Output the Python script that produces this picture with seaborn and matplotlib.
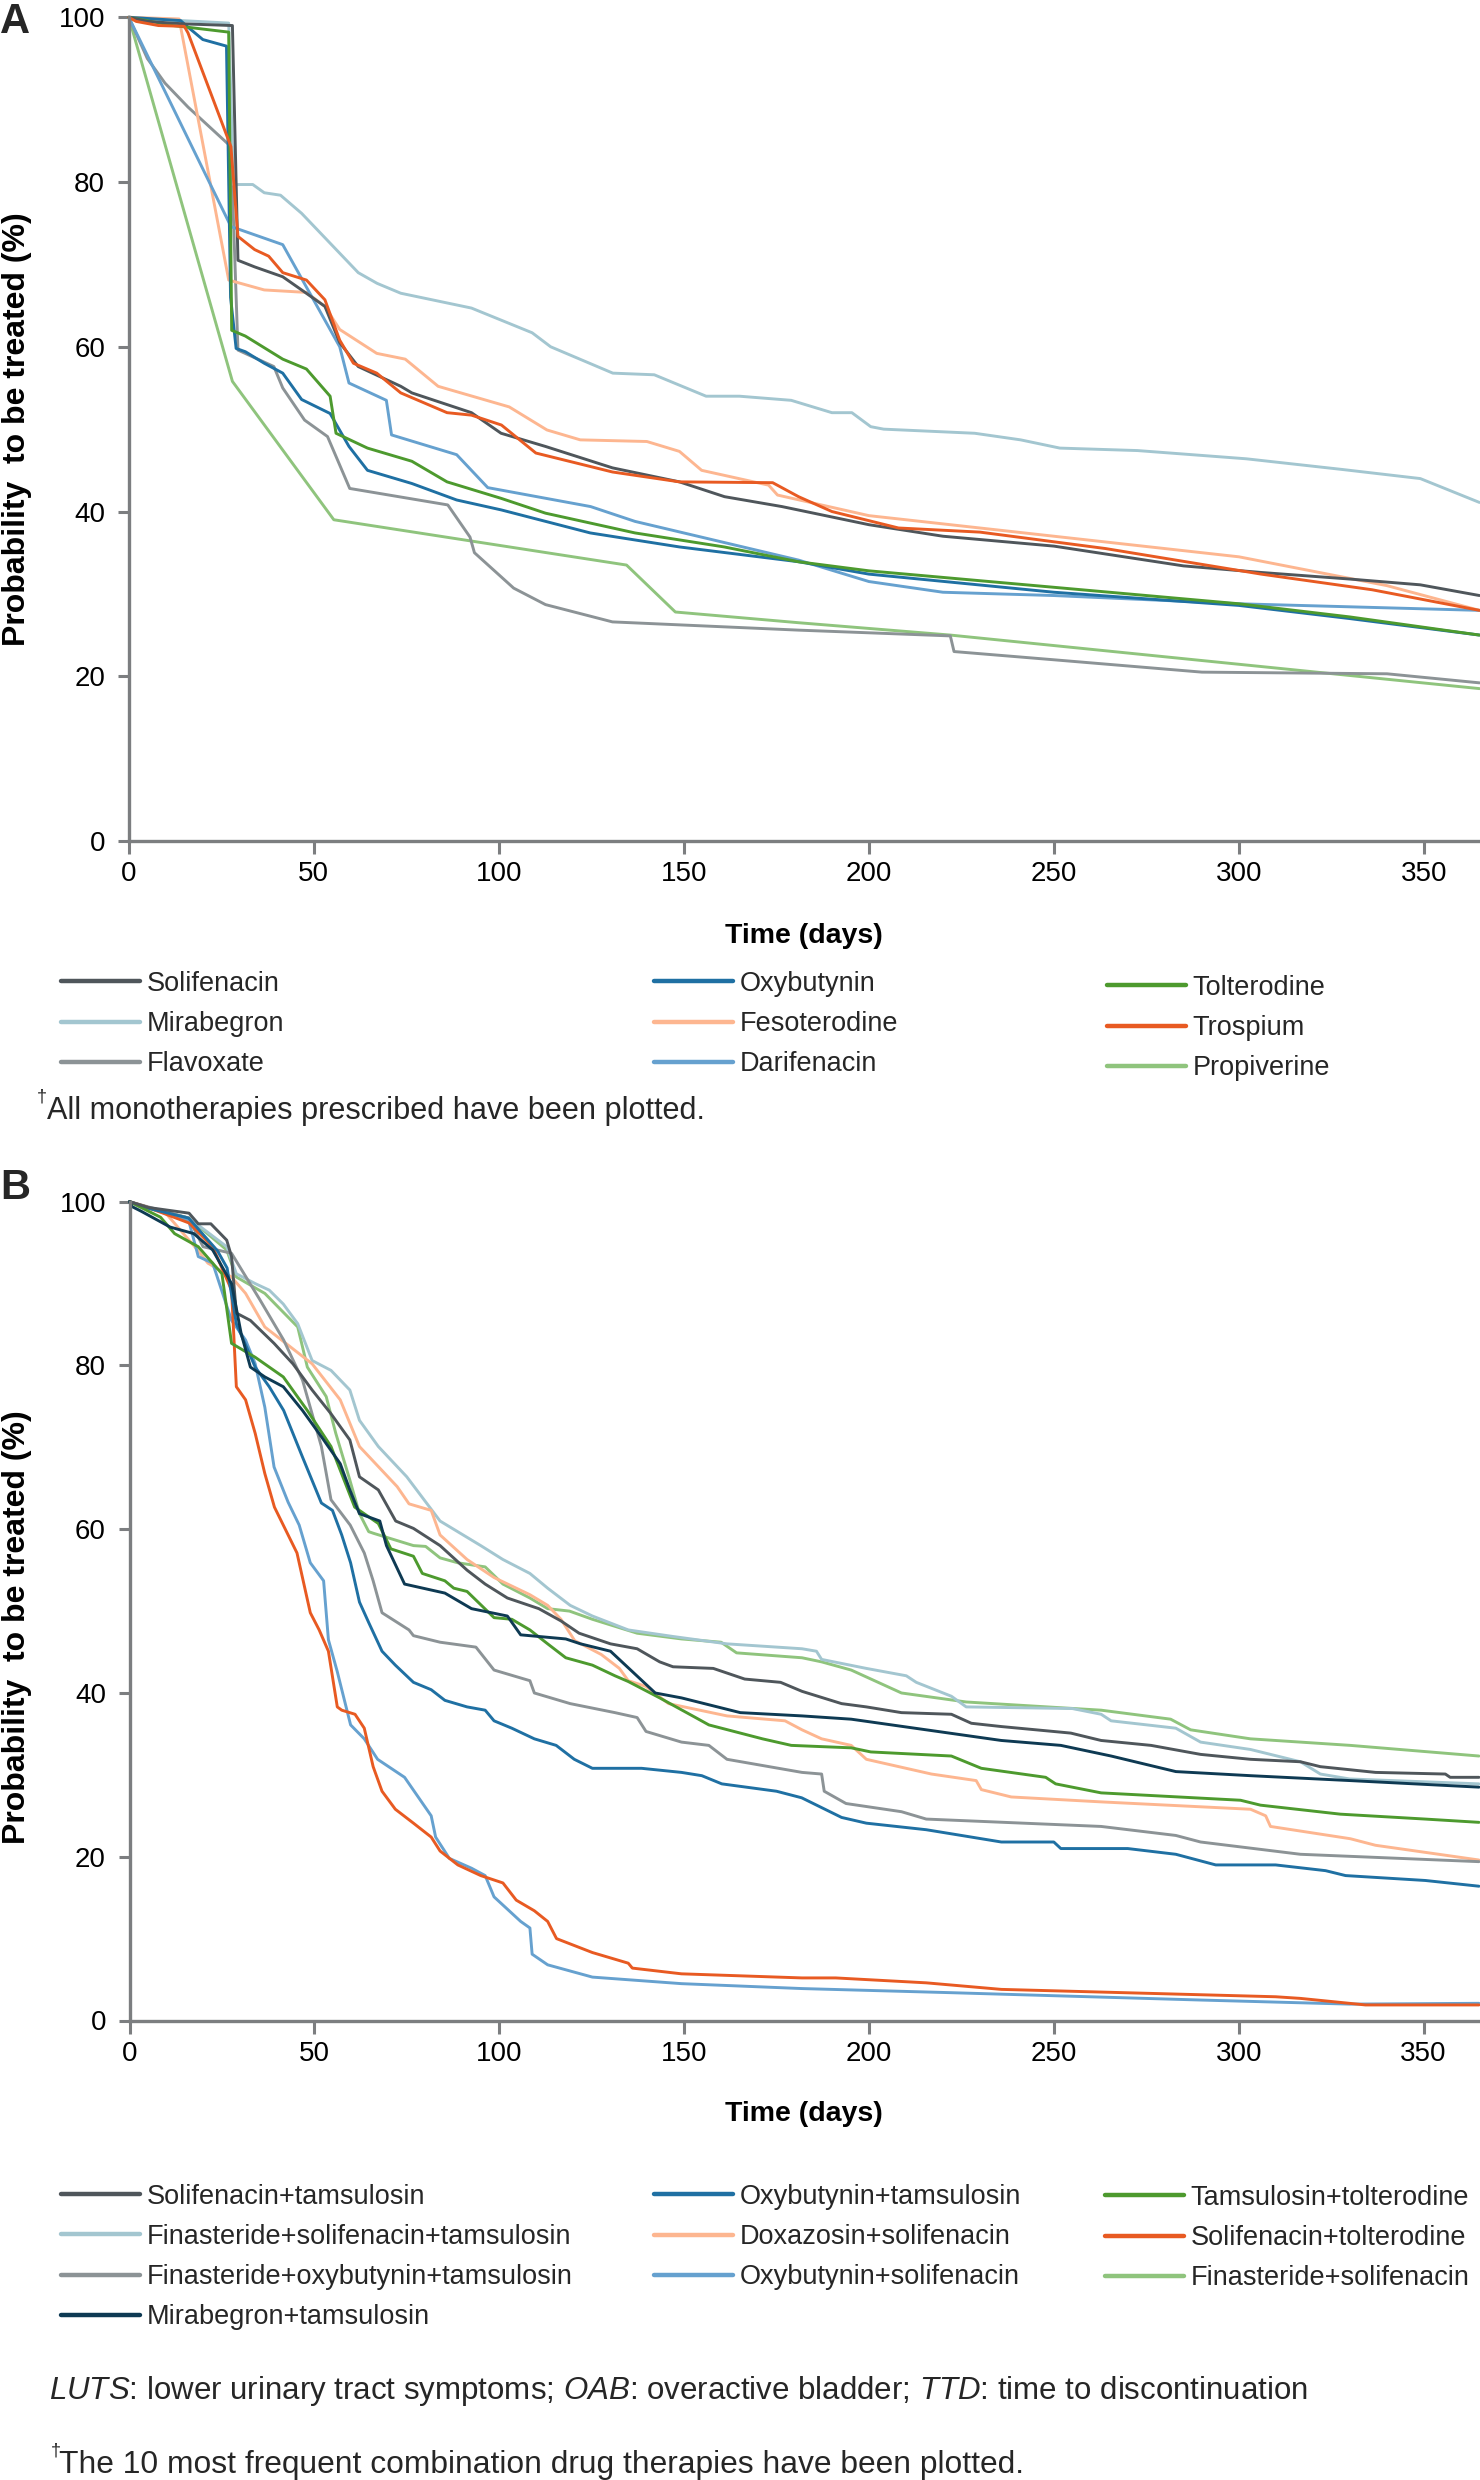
import matplotlib
matplotlib.use("Agg")
import matplotlib.pyplot as plt
import numpy as np
import pandas as pd
import seaborn as sns

sns.set_theme(style="ticks")
plt.rcParams["font.family"] = ["Liberation Sans", "DejaVu Sans"]
plt.rcParams["mathtext.fontset"] = "custom"
plt.rcParams["mathtext.rm"] = "Liberation Sans"
plt.rcParams["mathtext.it"] = "Liberation Sans:italic"

# ---------------- DATA: panel A (monotherapies) ----------------
names_a = ["Solifenacin", "Mirabegron", "Flavoxate",
           "Oxybutynin", "Fesoterodine", "Darifenacin",
           "Tolterodine", "Trospium", "Propiverine"]

solifenacin_x = [0, 5, 15, 28, 29.5, 34, 41.6, 46.7, 53, 57, 62, 73.5, 76.5, 92.6, 100.6, 112.6, 130.7, 148.8, 161, 176.5, 200, 220, 250, 285, 306, 330, 349, 365]
solifenacin_y = [100, 99.5, 99.2, 99, 70.5, 69.7, 68.5, 66.9, 64.9, 60.5, 57.6, 55.2, 54.4, 52, 49.5, 47.9, 45.3, 43.6, 41.8, 40.6, 38.4, 37, 35.8, 33.4, 32.6, 31.8, 31.1, 29.8]

mirabegron_x = [0, 10, 27, 28.3, 33.5, 36.6, 41, 46.7, 51.8, 56.9, 62, 67.1, 73.5, 92.6, 109, 114, 130.8, 142, 156, 165, 179, 190, 195.4, 200.5, 204, 228.6, 241, 251.6, 272.6, 302, 328, 349, 365]
mirabegron_y = [100, 99.7, 99.3, 79.7, 79.7, 78.7, 78.4, 76.2, 73.8, 71.4, 69, 67.7, 66.5, 64.7, 61.7, 60, 56.8, 56.6, 54, 54, 53.5, 52, 52, 50.3, 50, 49.5, 48.7, 47.7, 47.4, 46.4, 45.1, 44, 41.1]

flavoxate_x = [0, 5, 9.8, 16, 27.6, 29.5, 39.2, 41.6, 47.5, 53.7, 59.7, 86.2, 92.2, 93.4, 104, 112.6, 130.7, 181, 222, 223, 250, 290, 340, 365]
flavoxate_y = [100, 95, 92, 89.1, 84.3, 59.6, 57.6, 55, 51.1, 49.1, 42.8, 40.8, 36.9, 35, 30.7, 28.7, 26.6, 25.6, 24.9, 23, 22, 20.5, 20.3, 19.2]

oxybutynin_x = [0, 14, 16, 20, 26.4, 27.5, 29, 31.5, 36.6, 41.6, 46.7, 54.4, 59.5, 64.5, 76.5, 88.6, 100.6, 124.7, 148.8, 181, 200, 250, 300, 330, 365]
oxybutynin_y = [100, 99.6, 98.8, 97.3, 96.5, 66, 59.8, 59.4, 58, 56.8, 53.6, 51.9, 47.9, 45, 43.4, 41.4, 40.2, 37.4, 35.7, 33.9, 32.4, 30.2, 28.6, 27, 25]

fesoterodine_x = [0, 13.6, 27, 36.6, 48, 53, 57, 67, 74.7, 83.6, 102.8, 113, 122, 140, 148.8, 154.8, 172.9, 175.3, 200, 230, 260, 300, 340, 365]
fesoterodine_y = [100, 99.8, 68.1, 66.9, 66.6, 64.9, 62.1, 59.2, 58.5, 55.2, 52.7, 49.9, 48.7, 48.5, 47.3, 45, 43.2, 42, 39.5, 38, 36.5, 34.5, 31, 28]

darifenacin_x = [0, 27.6, 41.6, 57, 59.5, 69.6, 71, 88.6, 97, 124.8, 136.8, 181, 200, 220, 250, 300, 365]
darifenacin_y = [100, 74.6, 72.4, 60, 55.6, 53.5, 49.3, 46.9, 42.9, 40.6, 38.8, 34.1, 31.5, 30.2, 29.8, 28.8, 28]

tolterodine_x = [0, 12, 27, 27.8, 31.5, 41.6, 48, 54.4, 56, 64.5, 76.5, 86, 100.6, 112.6, 136.8, 160.9, 181, 200, 250, 300, 330, 365]
tolterodine_y = [100, 99, 98.2, 62, 61.3, 58.5, 57.3, 54, 49.5, 47.7, 46.1, 43.6, 41.6, 39.8, 37.4, 35.7, 33.9, 32.8, 30.8, 28.8, 27.2, 25]

trospium_x = [0, 2, 8, 15, 16, 27.6, 29.5, 34, 37.8, 41.6, 48, 53, 57, 60.7, 67, 73.5, 86, 92.6, 100.7, 110, 130.7, 148.8, 174, 181, 190, 208, 230, 264, 306, 336, 365]
trospium_y = [100, 99.5, 99, 98.9, 98.1, 84.3, 73.4, 71.8, 71, 69, 68.1, 65.7, 60.8, 58, 56.8, 54.4, 52, 51.7, 50.5, 47.1, 44.8, 43.6, 43.5, 41.8, 40, 38, 37.5, 35.5, 32.4, 30.5, 28]

propiverine_x = [0, 28, 55.4, 134.5, 147.7, 181, 222, 365]
propiverine_y = [100, 55.8, 39, 33.5, 27.8, 26.5, 25, 18.5]

# ---------------- DATA: panel B (combination therapies) ----------------
names_b = ["Solifenacin+tamsulosin", "Finasteride+solifenacin+tamsulosin",
           "Finasteride+oxybutynin+tamsulosin", "Mirabegron+tamsulosin",
           "Oxybutynin+tamsulosin", "Doxazosin+solifenacin", "Oxybutynin+solifenacin",
           "Tamsulosin+tolterodine", "Solifenacin+tolterodine", "Finasteride+solifenacin"]

soltam_x = [0, 5, 16.1, 18.6, 22, 26.3, 27.6, 28.9, 32.7, 39.1, 44.2, 49.4, 54.5, 59.6, 62.2, 67.3, 69.9, 72, 76.8, 84, 91.3, 96.2, 102.2, 110.7, 116.7, 121.6, 130.1, 137.3, 143.4, 147, 157.9, 166.4, 176.1, 181.9, 192.6, 199.3, 208.8, 222.3, 227.7, 235.8, 254.6, 262.8, 276.3, 289.7, 303.2, 316.7, 322.1, 337, 355.9, 357.2, 365]
soltam_y = [100, 99.3, 98.6, 97.3, 97.3, 95.3, 93.3, 86.4, 85.5, 82.7, 80.2, 77, 74.1, 70.9, 66.4, 64.8, 62.7, 61, 60.1, 58, 55, 53.3, 51.6, 50.3, 48.8, 47.3, 46, 45.4, 43.8, 43.2, 43, 41.7, 41.3, 40.2, 38.7, 38.3, 37.6, 37.4, 36.3, 35.9, 35.1, 34.2, 33.6, 32.5, 31.9, 31.6, 31, 30.3, 30.1, 29.7, 29.7]

finsoltam_x = [0, 7.1, 16.1, 26.3, 28.9, 34, 37.8, 41.6, 45.5, 49.4, 54.5, 59.6, 62.2, 67.3, 75, 84, 95, 101, 108.3, 113.1, 119.2, 125.2, 134.9, 147, 161.6, 181.9, 185.8, 187.2, 199.3, 210.1, 212.8, 222.3, 226.3, 255, 262.8, 265.5, 283, 289.7, 303.2, 316.7, 322.1, 330, 365]
finsoltam_y = [100, 99, 98, 94.5, 91.2, 90, 89.2, 87.5, 85.1, 80.6, 79.4, 77, 73.3, 70.1, 66.4, 61, 58, 56.3, 54.6, 52.8, 50.7, 49.4, 47.7, 46.9, 46, 45.4, 45.1, 44.1, 43, 42.1, 41.3, 39.6, 38.3, 38.1, 37.4, 36.6, 35.7, 34, 33.1, 31.6, 30.1, 29.5, 28.9]

finoxytam_x = [0, 16, 19.9, 27.6, 35.3, 41.7, 46.8, 51.9, 54.5, 59.7, 63.5, 65.9, 68.3, 75.6, 76.8, 84, 93.7, 98.6, 108.3, 109.5, 119.2, 131.3, 137.3, 139.7, 149.3, 156.7, 161.6, 181.9, 187.2, 187.9, 193.8, 208.8, 215.5, 262.8, 283, 289.7, 305.9, 316.7, 365]
finoxytam_y = [100, 98, 94.5, 93.7, 88, 83.1, 78.2, 70.1, 63.6, 60.5, 57.1, 53.7, 49.8, 47.7, 47, 46.2, 45.6, 42.8, 41.5, 40, 38.7, 37.6, 37, 35.3, 34, 33.6, 31.9, 30.3, 30.1, 28, 26.5, 25.5, 24.6, 23.7, 22.6, 21.8, 20.9, 20.3, 19.4]

mirtam_x = [0, 0.7, 3.3, 11, 17.4, 22.5, 27.6, 30.2, 32.7, 36.6, 41.6, 46.8, 51.9, 57, 59.6, 62.2, 67.7, 69.5, 74.4, 85.3, 92.5, 102.2, 105.8, 118, 122, 130.1, 142.2, 149.3, 165.2, 181.9, 195.2, 235.8, 251.9, 265.5, 283, 303.2, 330.2, 365]
mirtam_y = [100, 99.4, 98.8, 96.9, 96.1, 94.1, 90, 83.9, 79.8, 78.6, 77.4, 74.5, 71.3, 68, 64.8, 61.9, 61, 58, 53.3, 52.2, 50.3, 49.4, 47.1, 46.6, 46, 45.1, 40, 39.4, 37.6, 37.2, 36.8, 34.2, 33.6, 32.3, 30.4, 29.9, 29.3, 28.5]

oxytam_x = [0, 5, 16, 23.8, 26.4, 28.9, 34, 37.8, 41.7, 46.8, 51.9, 54.9, 57.4, 59.8, 62.2, 64.7, 68.3, 71.9, 76.8, 81.6, 85.3, 91.3, 96.2, 98.6, 103.4, 109.5, 115.4, 120.3, 125.2, 138.5, 149.3, 154.8, 160.2, 175, 181.8, 192.6, 199.3, 215.5, 225, 235.8, 250, 251.9, 270, 283, 293.8, 310, 323.5, 328.9, 350.5, 365]
oxytam_y = [100, 99.2, 98, 94, 91.9, 85.1, 79.8, 77.4, 74.5, 68.8, 63.2, 62.3, 59.3, 55.9, 51.1, 48.6, 45.1, 43.4, 41.3, 40.4, 39.1, 38.3, 37.9, 36.6, 35.7, 34.4, 33.6, 31.9, 30.8, 30.8, 30.3, 29.9, 28.9, 28, 27.2, 24.8, 24.1, 23.3, 22.6, 21.8, 21.8, 21, 21, 20.3, 19, 19, 18.3, 17.7, 17.1, 16.4]

doxsol_x = [0, 10, 18.6, 21.2, 27.6, 31.4, 36.6, 49.4, 57, 62.2, 72.4, 75.6, 81.6, 84, 91.3, 98.6, 108.3, 113.1, 116.7, 120.4, 127.6, 132.5, 134.9, 139.7, 145.8, 161.6, 177.3, 181.9, 187.2, 195.2, 199.3, 216.9, 229, 230.4, 238.5, 262.8, 303.2, 307.3, 308.6, 330.2, 337, 365]
doxsol_y = [100, 98.5, 94, 92.5, 90.8, 88.8, 84.7, 80.2, 75.8, 70.1, 65.2, 63.1, 62.3, 59.3, 56.3, 54.1, 52, 50.7, 49, 46.4, 44.7, 43, 41.5, 40.8, 38.7, 37.2, 36.6, 35.5, 34.4, 33.6, 31.9, 30.1, 29.3, 28.2, 27.3, 26.7, 25.8, 25, 23.7, 22.2, 21.4, 19.6]

oxysol_x = [0, 5, 16, 18.6, 22.5, 27.6, 31.4, 34, 36.6, 39.1, 42.9, 45.9, 48.9, 52.5, 53.8, 56.2, 59.8, 63.5, 67.1, 74.4, 81.6, 82.8, 86.5, 92.5, 96.2, 98.6, 105.8, 108.3, 108.9, 113.1, 125.2, 149.3, 181.9, 222, 289.7, 330, 365]
oxysol_y = [100, 99.3, 97.7, 93.3, 92.5, 85.5, 83.1, 80.2, 74.9, 67.6, 63.3, 60.5, 55.9, 53.7, 46.5, 42.6, 36.1, 34.4, 31.9, 29.7, 25, 22.4, 19.8, 18.6, 17.7, 15.1, 12.1, 11.3, 8.1, 6.8, 5.3, 4.5, 3.9, 3.4, 2.5, 2.0, 2.1]

tamtol_x = [0, 8.4, 12.2, 18.6, 25, 27.6, 34, 41.6, 48.1, 54.5, 60.9, 67.3, 70.7, 76.8, 79.2, 85.3, 87.7, 91.3, 98.6, 103.4, 108.3, 113.1, 118, 125.2, 131.3, 134.9, 143.4, 153.1, 156.7, 171.2, 179, 195.2, 200.5, 222.3, 230.4, 247.8, 250.5, 262.8, 300.5, 305.9, 327.5, 350.5, 365]
tamtol_y = [100, 98.1, 96.1, 94.5, 91.2, 82.7, 81, 78.6, 74.5, 70.1, 62.7, 60.7, 57.6, 56.7, 54.6, 53.7, 52.8, 52.4, 49.2, 49, 47.7, 46, 44.3, 43.4, 42.1, 41.4, 39.4, 37, 36.1, 34.4, 33.6, 33.3, 32.8, 32.3, 30.8, 29.7, 28.9, 27.8, 26.9, 26.3, 25.2, 24.6, 24.2]

soltol_x = [0, 5, 16.1, 22.5, 27.6, 28.9, 31.4, 34, 36.6, 39.2, 45.3, 48.9, 51.3, 53.8, 56.2, 57.4, 61, 63.5, 65.9, 68.3, 71.9, 76.8, 81.6, 84, 88.8, 95, 101, 104.6, 109.5, 113.1, 115.5, 125.2, 134.9, 136, 149.3, 181.9, 191, 215.5, 235.8, 310, 316.7, 334.3, 365]
soltol_y = [100, 99.3, 97.4, 94.5, 89.2, 77.4, 75.8, 71.7, 66.8, 62.7, 57.1, 49.8, 47.7, 45.1, 38.3, 37.9, 37.4, 35.7, 31, 28, 25.8, 24.1, 22.4, 20.7, 19, 17.7, 16.8, 14.7, 13.4, 12.1, 10, 8.3, 7, 6.4, 5.7, 5.2, 5.2, 4.6, 3.8, 2.9, 2.7, 1.9, 1.9]

finsol_x = [0, 7.1, 16.1, 26.3, 28.9, 36.6, 45.5, 48.1, 53.2, 55.8, 59.6, 62.2, 64.7, 66, 76.8, 80.1, 84, 88.8, 96.2, 101, 108.3, 113.1, 119, 125.2, 137.3, 149.3, 160, 164.2, 181.9, 187.2, 195.2, 208.8, 226.3, 262.8, 281.6, 287, 303.2, 330.2, 365]
finsol_y = [100, 99, 98, 94.1, 90.8, 88.8, 84.7, 79.8, 76.2, 71.7, 66, 61.9, 59.7, 59.5, 58, 57.9, 56.5, 55.9, 55.4, 53.3, 51.6, 50.3, 50, 49, 47.3, 46.6, 46.2, 44.9, 44.3, 43.8, 42.8, 40, 38.9, 37.9, 36.8, 35.5, 34.4, 33.6, 32.3]

x_ticks = [0, 50, 100, 150, 200, 250, 300, 350]
y_ticks = [0, 20, 40, 60, 80, 100]

colors_a = {"Solifenacin": "#4f565b", "Mirabegron": "#a3c6d0", "Flavoxate": "#8c9396",
            "Oxybutynin": "#1f70a3", "Fesoterodine": "#fdb690", "Darifenacin": "#66a1cf",
            "Tolterodine": "#4d9a2e", "Trospium": "#e85a22", "Propiverine": "#8fc47d"}
colors_b = {"Solifenacin+tamsulosin": "#4f565b", "Finasteride+solifenacin+tamsulosin": "#a3c6d0",
            "Finasteride+oxybutynin+tamsulosin": "#8c9396", "Mirabegron+tamsulosin": "#0e3a53",
            "Oxybutynin+tamsulosin": "#1f70a3", "Doxazosin+solifenacin": "#fdb690",
            "Oxybutynin+solifenacin": "#66a1cf", "Tamsulosin+tolterodine": "#4d9a2e",
            "Solifenacin+tolterodine": "#e85a22", "Finasteride+solifenacin": "#8fc47d"}

series_a = {"Solifenacin": (solifenacin_x, solifenacin_y), "Mirabegron": (mirabegron_x, mirabegron_y),
            "Flavoxate": (flavoxate_x, flavoxate_y), "Oxybutynin": (oxybutynin_x, oxybutynin_y),
            "Fesoterodine": (fesoterodine_x, fesoterodine_y), "Darifenacin": (darifenacin_x, darifenacin_y),
            "Tolterodine": (tolterodine_x, tolterodine_y), "Trospium": (trospium_x, trospium_y),
            "Propiverine": (propiverine_x, propiverine_y)}
series_b = {"Solifenacin+tamsulosin": (soltam_x, soltam_y),
            "Finasteride+solifenacin+tamsulosin": (finsoltam_x, finsoltam_y),
            "Finasteride+oxybutynin+tamsulosin": (finoxytam_x, finoxytam_y),
            "Mirabegron+tamsulosin": (mirtam_x, mirtam_y),
            "Oxybutynin+tamsulosin": (oxytam_x, oxytam_y),
            "Doxazosin+solifenacin": (doxsol_x, doxsol_y),
            "Oxybutynin+solifenacin": (oxysol_x, oxysol_y),
            "Tamsulosin+tolterodine": (tamtol_x, tamtol_y),
            "Solifenacin+tolterodine": (soltol_x, soltol_y),
            "Finasteride+solifenacin": (finsol_x, finsol_y)}


def long_df(series):
    rows = []
    for name, (xs, ys) in series.items():
        for i, (a, b) in enumerate(zip(xs, ys)):
            rows.append((name, i, a, b))
    return pd.DataFrame(rows, columns=["therapy", "order", "time", "prob"])


df_a = long_df(series_a)
df_b = long_df(series_b)

W, H = 1480, 2480
fig = plt.figure(figsize=(W / 100, H / 100), dpi=100)


def fx(px):
    return px / W


def fy(py):
    return 1 - py / H


ax_a = fig.add_axes([fx(128.8), fy(841), (1479.5 - 128.8) / W, (841 - 17.3) / H])
ax_b = fig.add_axes([fx(129.5), fy(2020.5), (1479.0 - 129.5) / W, (2020.5 - 1201.7) / H])

AXC = "#7c7e80"

draw_a = ["Propiverine", "Flavoxate", "Mirabegron", "Fesoterodine", "Darifenacin",
          "Oxybutynin", "Tolterodine", "Solifenacin", "Trospium"]
draw_b = ["Finasteride+solifenacin", "Finasteride+solifenacin+tamsulosin", "Doxazosin+solifenacin",
          "Finasteride+oxybutynin+tamsulosin", "Oxybutynin+solifenacin", "Solifenacin+tolterodine",
          "Oxybutynin+tamsulosin", "Tamsulosin+tolterodine", "Solifenacin+tamsulosin",
          "Mirabegron+tamsulosin"]

for ax, df, order, cols in [(ax_a, df_a, draw_a, colors_a), (ax_b, df_b, draw_b, colors_b)]:
    sns.lineplot(data=df, x="time", y="prob", hue="therapy", hue_order=order,
                 palette=cols, estimator=None, sort=False, linewidth=2.1, ax=ax, legend=True)
    for ln in ax.lines:
        ln.set_clip_on(False)
        ln.set_solid_joinstyle("round")
    ax.set_xlim(0, 365)
    ax.set_ylim(0, 100)
    ax.set_xticks(x_ticks)
    ax.set_yticks(y_ticks)
    ax.tick_params(axis="x", length=9.5, width=2.2, color=AXC, labelsize=20, pad=5,
                   labelcolor="black", direction="out")
    ax.tick_params(axis="y", length=8, width=2.2, color=AXC, labelsize=20, pad=9,
                   labelcolor="black", direction="out")
    for s in ["top", "right"]:
        ax.spines[s].set_visible(False)
    for s in ["left", "bottom"]:
        ax.spines[s].set_color(AXC)
        ax.spines[s].set_linewidth(2.4)
    ax.set_xlabel("Time (days)", fontsize=20.5, fontweight="bold", color="black")
    ax.set_ylabel("Probability  to be treated (%)", fontsize=23, fontweight="bold", color="black")

ax_a.xaxis.set_label_coords(0.5, -0.1)
ax_a.yaxis.set_label_coords((32 - 128.8) / 1350.7, 0.5)
ax_b.xaxis.set_label_coords(0.5, -0.0985)
ax_b.yaxis.set_label_coords((32 - 129.5) / 1349.5, 0.48)


def build_legends(ax, columns, xs, centers):
    handles, labels = ax.get_legend_handles_labels()
    ax.get_legend().remove()
    hmap = dict(zip(labels, handles))
    for col, x0, yc in zip(columns, xs, centers):
        hs = []
        for n in col:
            h = hmap[n]
            h.set_linewidth(3.2)
            hs.append(h)
        fig.legend(hs, col, loc="center left", bbox_to_anchor=(fx(x0), fy(yc)),
                   bbox_transform=fig.transFigure, frameon=False, borderpad=0,
                   borderaxespad=0, handlelength=2.92, handletextpad=0.25,
                   labelspacing=0.52, fontsize=19.5)


build_legends(ax_a,
              [["Solifenacin", "Mirabegron", "Flavoxate"],
               ["Oxybutynin", "Fesoterodine", "Darifenacin"],
               ["Tolterodine", "Trospium", "Propiverine"]],
              [61, 654, 1107], [1024, 1024, 1028])
build_legends(ax_b,
              [["Solifenacin+tamsulosin", "Finasteride+solifenacin+tamsulosin",
                "Finasteride+oxybutynin+tamsulosin", "Mirabegron+tamsulosin"],
               ["Oxybutynin+tamsulosin", "Doxazosin+solifenacin", "Oxybutynin+solifenacin"],
               ["Tamsulosin+tolterodine", "Solifenacin+tolterodine", "Finasteride+solifenacin"]],
              [61, 654, 1105], [2257, 2237, 2238])

# panel letters
fig.text(fx(0), fy(2), "A", fontsize=30, fontweight="bold", va="top", ha="left")
fig.text(fx(0), fy(1168), "B", fontsize=30, fontweight="bold", va="top", ha="left")

renderer = fig.canvas.get_renderer()


def fit(t, target_px):
    w = t.get_window_extent(renderer=renderer).width
    t.set_fontsize(t.get_fontsize() * target_px / w)


t1 = fig.text(fx(47), fy(1111), "All monotherapies prescribed have been plotted.",
              fontsize=20, va="center", ha="left")
fit(t1, 655)
fig.text(fx(37), fy(1097), "\u2020", fontsize=13, va="center", ha="left")

t2 = fig.text(fx(49), fy(2391),
              r"$\mathit{LUTS}$: lower urinary tract symptoms; $\mathit{OAB}$: overactive bladder; "
              r"$\mathit{TTD}$: time to discontinuation",
              fontsize=20, va="center", ha="left")
fit(t2, 1259)

t3 = fig.text(fx(59), fy(2465), "The 10 most frequent combination drug therapies have been plotted.",
              fontsize=20, va="center", ha="left")
fit(t3, 961)
fig.text(fx(51), fy(2451), "\u2020", fontsize=13, va="center", ha="left")

fig.savefig("out.png", dpi=100, facecolor="white")
